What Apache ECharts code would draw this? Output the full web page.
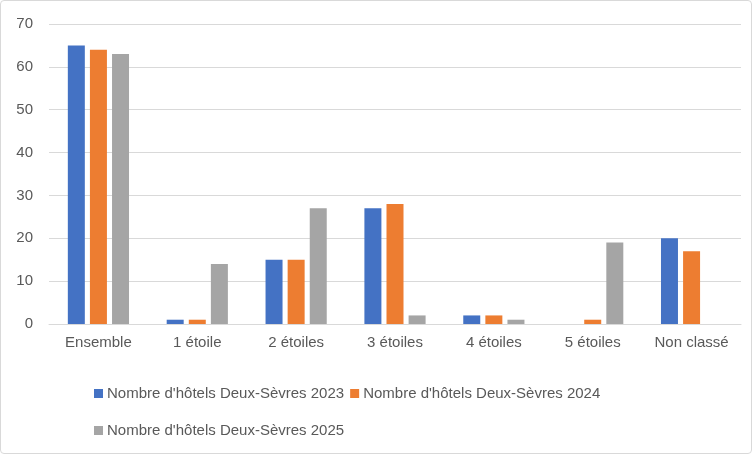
<!DOCTYPE html>
<html><head><meta charset="utf-8">
<script src="https://cdn.jsdelivr.net/npm/echarts@6/dist/echarts.min.js"></script>
<style>html,body{margin:0;padding:0;background:#fff}#c{width:750px;height:452px;border:1px solid #d9d9d9;border-radius:4px}</style>
</head><body><div id="c"></div>
<script>
const categories = ["Ensemble","1 étoile","2 étoiles","3 étoiles","4 étoiles","5 étoiles","Non classé"];
const s2023 = [65,1,15,27,2,0,20];
const s2024 = [64,1,15,28,2,1,17];
const s2025 = [63,14,27,2,1,19,0];
const names = ["Nombre d'hôtels Deux-Sèvres 2023","Nombre d'hôtels Deux-Sèvres 2024","Nombre d'hôtels Deux-Sèvres 2025"];
const colors = ["#4472C4","#ED7D31","#A5A5A5"];
const chart = echarts.init(document.getElementById('c'));
const font = "Liberation Sans";
const lg = (top,left,data)=>({top,left,itemWidth:9,itemHeight:9,itemGap:6,icon:'rect',
    textStyle:{fontSize:15,color:'#595959',fontFamily:font,padding:[0,0,0,-1]},data});
chart.setOption({
  animation:false,
  textStyle:{fontFamily:font},
  grid:{left:48,right:10,top:23,bottom:129},
  legend:[lg(380,88,[names[0],names[1]]),lg(417,88,[names[2]])],
  xAxis:{type:'category',data:categories,axisTick:{show:false},
    axisLine:{lineStyle:{color:'#d9d9d9'}},
    axisLabel:{fontSize:15,color:'#595959',margin:11}},
  yAxis:{type:'value',min:0,max:70,interval:10,
    splitLine:{lineStyle:{color:'#d9d9d9'}},
    axisLabel:{fontSize:15,color:'#595959',margin:16}},
  series:[s2023,s2024,s2025].map((d,i)=>({name:names[i],type:'bar',data:d,
    itemStyle:{color:colors[i]},barWidth:17,barGap:'30%'}))
});
</script></body></html>
